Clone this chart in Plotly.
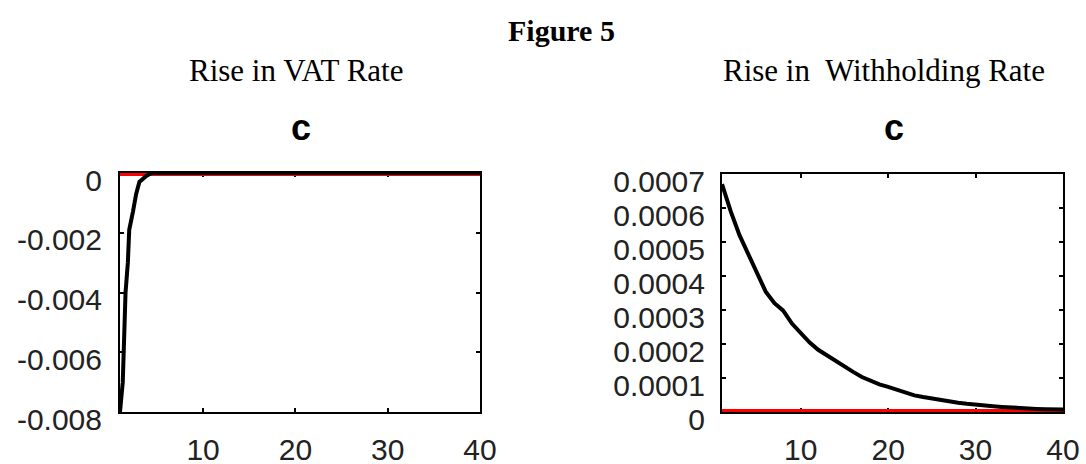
import plotly.graph_objects as go

# ---- data ----
vat_x = [1, 1.3, 1.5, 1.6, 1.85, 2, 2.4, 2.75, 3.1, 3.5, 3.85, 4.4, 5, 10, 20, 30, 40]
vat_c = [-0.008, -0.007, -0.005, -0.004, -0.003, -0.0019, -0.0013, -0.0007,
         -0.0003, -0.00018, -0.0001, 0.0, 0.0, 0.0, 0.0, 0.0, 0.0]

wh_x = list(range(1, 41))
wh_c = [0.00067, 0.00059, 0.00052, 0.000465, 0.00041, 0.000354, 0.00032, 0.000298,
        0.00026, 0.000233, 0.000205, 0.000183, 0.000166, 0.00015, 0.000133, 0.000118,
        0.000103, 0.000091, 0.000081, 0.000074, 0.000065, 0.000056, 0.000049, 0.000044,
        0.000039, 0.000035, 0.000031, 0.000027, 0.000024, 0.000021, 0.000019, 0.000017,
        0.000015, 0.000013, 0.000011, 0.00001, 0.000009, 0.000008, 0.000008, 0.000007]

zero_x = [1, 40]
zero_y = [0, 0]

x_ticks = [10, 20, 30, 40]
x_ticktext = ["10", "20", "30", "40"]
vat_yticks = [0, -0.002, -0.004, -0.006, -0.008]
vat_yticktext = ["0", "-0.002", "-0.004", "-0.006", "-0.008"]
wh_yticks = [0, 0.0001, 0.0002, 0.0003, 0.0004, 0.0005, 0.0006, 0.0007]
wh_yticktext = ["0", "0.0001", "0.0002", "0.0003", "0.0004", "0.0005", "0.0006", "0.0007"]

fig_title = "Figure 5"
left_title = "Rise in VAT Rate"
right_title = "Rise in\u00a0 Withholding Rate"
panel_title = "c"

W, H = 1086, 464
def fx(px):
    return px / W
def fy(py):
    return 1 - py / H

fig = go.Figure()
fig.add_trace(go.Scatter(x=zero_x, y=zero_y, mode="lines", line=dict(color="red", width=6),
                         xaxis="x", yaxis="y", hoverinfo="skip"))
fig.add_trace(go.Scatter(x=vat_x, y=vat_c, mode="lines", line=dict(color="black", width=4),
                         xaxis="x", yaxis="y"))
fig.add_trace(go.Scatter(x=zero_x, y=zero_y, mode="lines", line=dict(color="red", width=6),
                         xaxis="x2", yaxis="y2", hoverinfo="skip"))
fig.add_trace(go.Scatter(x=wh_x, y=wh_c, mode="lines", line=dict(color="black", width=4),
                         xaxis="x2", yaxis="y2"))

tick_font = dict(family="Liberation Sans, Arial, sans-serif", size=30, color="#222222")
common_axis = dict(showline=True, linewidth=2, linecolor="black", mirror="allticks",
                   ticks="inside", ticklen=4, tickwidth=1.5, tickcolor="black",
                   showgrid=False, zeroline=False, layer="below traces",
                   tickfont=tick_font, fixedrange=True, automargin=False)

fig.update_layout(
    template="none",
    width=W, height=H,
    margin=dict(l=0, r=0, t=0, b=0, pad=0),
    paper_bgcolor="white", plot_bgcolor="white",
    showlegend=False,
    xaxis=dict(domain=[fx(120), fx(480)], range=[1, 40], anchor="y",
               tickvals=x_ticks, ticktext=x_ticktext, ticklabelstandoff=10, **common_axis),
    yaxis=dict(domain=[fy(412), fy(173)], range=[-0.008, 0], anchor="x",
               tickvals=vat_yticks, ticktext=vat_yticktext,
               ticklabelstandoff=10, ticklabelshift=7, **common_axis),
    xaxis2=dict(domain=[fx(722), fx(1063)], range=[1, 40], anchor="y2",
                tickvals=x_ticks, ticktext=x_ticktext, ticklabelstandoff=10, **common_axis),
    yaxis2=dict(domain=[fy(412), fy(174)], range=[0, 0.0007], anchor="x2",
                tickvals=wh_yticks, ticktext=wh_yticktext,
                ticklabelstandoff=9, ticklabelshift=7, **common_axis),
)

serif = "Liberation Serif, Times New Roman, serif"
ann = [
    dict(text="<b>" + fig_title + "</b>", x=fx(561), y=fy(31),
         font=dict(family=serif, size=30, color="black")),
    dict(text=left_title, x=fx(296), y=fy(71),
         font=dict(family=serif, size=31, color="black")),
    dict(text=right_title, x=fx(884), y=fy(71),
         font=dict(family=serif, size=31, color="black")),
    dict(text="<b>" + panel_title + "</b>", x=fx(301), y=fy(127),
         font=dict(family="Liberation Sans, Arial, sans-serif", size=36, color="black")),
    dict(text="<b>" + panel_title + "</b>", x=fx(894), y=fy(127),
         font=dict(family="Liberation Sans, Arial, sans-serif", size=36, color="black")),
]
for a in ann:
    a.update(xref="paper", yref="paper", xanchor="center", yanchor="middle", showarrow=False)
fig.update_layout(annotations=ann)

fig.write_html("out.html", config={"displayModeBar": False},
               post_script="document.body.style.margin='0';")
